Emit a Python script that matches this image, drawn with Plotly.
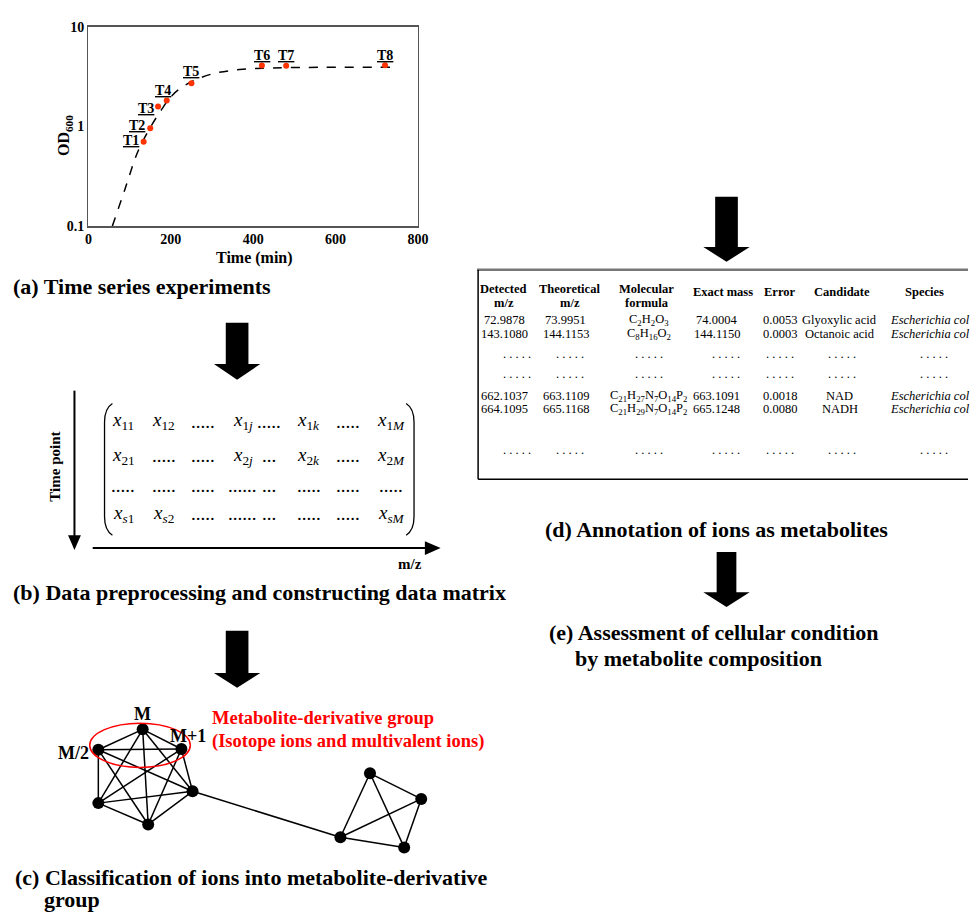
import math
import plotly.graph_objects as go

W, H = 979, 921
FONT = "Liberation Serif"

# ---------------- data: (a) growth curve ----------------
time_points = [134, 150, 169, 190, 250, 421, 480, 720]
od_points = [0.70, 0.96, 1.58, 1.82, 2.70, 4.09, 4.05, 4.10]
point_labels = ["T1", "T2", "T3", "T4", "T5", "T6", "T7", "T8"]
curve_time = [58, 88, 120, 151, 175, 199, 223, 255, 303, 367, 447, 566, 734]
curve_od = [0.10, 0.23, 0.56, 0.99, 1.42, 1.96, 2.41, 2.87, 3.38, 3.71, 3.85, 3.91, 3.91]
x_ticks = [0, 200, 400, 600, 800]
y_ticks = [0.1, 1, 10]
y_tick_labels = ["0.1", "1", "10"]

# ---------------- data: (b) matrix ----------------
matrix_rows = [
    ["<i>x</i><sub>11</sub>", "<i>x</i><sub>12</sub>", ".....", "<i>x</i><sub>1<i>j</i></sub>", ".....",
     "<i>x</i><sub>1<i>k</i></sub>", ".....", "<i>x</i><sub>1<i>M</i></sub>"],
    ["<i>x</i><sub>21</sub>", ".....", ".....", "<i>x</i><sub>2<i>j</i></sub>", "...",
     "<i>x</i><sub>2<i>k</i></sub>", ".....", "<i>x</i><sub>2<i>M</i></sub>"],
    [".....", ".....", ".....", "......", "...", ".....", ".....", "....."],
    ["<i>x</i><sub><i>s</i>1</sub>", "<i>x</i><sub><i>s</i>2</sub>", ".....", "......", "...",
     ".....", ".....", "<i>x</i><sub><i>sM</i></sub>"],
]

# ---------------- data: (c) network ----------------
node_x = [141.7, 96.7, 181.0, 192.3, 96.7, 147.3, 372.3, 424.3, 342.3, 407.0]
node_y = [734.3, 755.0, 754.3, 797.3, 809.3, 831.0, 779.0, 805.0, 844.0, 854.3]
group_a = [0, 1, 2, 3, 4, 5]
group_b = [6, 7, 8, 9]
bridge = [(3, 8)]
node_names = {0: "M", 1: "M/2", 2: "M+1"}

# ---------------- data: (d) table ----------------
detected_mz = ["72.9878", "143.1080", "662.1037", "664.1095"]
theoretical_mz = ["73.9951", "144.1153", "663.1109", "665.1168"]
formulas = ["C<sub>2</sub>H<sub>2</sub>O<sub>3</sub>", "C<sub>8</sub>H<sub>16</sub>O<sub>2</sub>",
            "C<sub>21</sub>H<sub>27</sub>N<sub>7</sub>O<sub>14</sub>P<sub>2</sub>",
            "C<sub>21</sub>H<sub>29</sub>N<sub>7</sub>O<sub>14</sub>P<sub>2</sub>"]
exact_mass = ["74.0004", "144.1150", "663.1091", "665.1248"]
errors = ["0.0053", "0.0003", "0.0018", "0.0080"]
candidates = ["Glyoxylic acid", "Octanoic acid", "NAD", "NADH"]
species = ["Escherichia col"] * 4
header_line1 = ["Detected", "Theoretical", "Molecular", "Exact mass", "Error", "Candidate", "Species"]
header_line2 = ["m/z", "m/z", "formula", "", "", "", ""]

captions = {
    "a": "(a) Time series experiments",
    "b": "(b) Data preprocessing and constructing data matrix",
    "c1": "(c) Classification of ions into metabolite-derivative",
    "c2": "group",
    "d": "(d) Annotation of ions as metabolites",
    "e1": "(e) Assessment of cellular condition",
    "e2": "by metabolite composition",
}

# ---------------- figure ----------------
fig = go.Figure()
annotations = []
shapes = []


def txt(x, y, text, size, bold=False, color="black", xanchor="center", angle=0):
    annotations.append(dict(
        x=x, y=y, xref="x2", yref="y2", text=text, showarrow=False,
        xanchor=xanchor, yanchor="middle", textangle=angle,
        font=dict(family=FONT, size=size, color=color, weight="bold" if bold else "normal")))


# (a) growth curve
fig.add_trace(go.Scatter(x=curve_time, y=curve_od, mode="lines",
                         line=dict(color="black", width=1.5, dash="dash", shape="spline"),
                         xaxis="x", yaxis="y", showlegend=False, hoverinfo="skip"))
fig.add_trace(go.Scatter(x=time_points, y=od_points, mode="markers",
                         marker=dict(color="#ff3300", size=6), xaxis="x", yaxis="y",
                         showlegend=False))
label_shift = [(-13, 1), (-13, 3), (-12, -2), (-4, 10), (0, 12), (0, 10), (0, 10), (0, 10)]
for t, v, lab, (dx, dy) in zip(time_points, od_points, point_labels, label_shift):
    annotations.append(dict(x=t, y=math.log10(v), xref="x", yref="y", yanchor="middle",
                            xanchor="center", text="<u>" + lab + "</u>", showarrow=False,
                            xshift=dx, yshift=dy,
                            font=dict(family=FONT, size=14, color="black", weight="bold")))

txt(255, 255, "Time (min)", 16, bold=True)
txt(63, 131, "OD<sub>600</sub>", 16, bold=True, angle=-90)

# network edges
edge_x, edge_y = [], []


def add_edge(i, j):
    edge_x.extend([node_x[i], node_x[j], None])
    edge_y.extend([node_y[i], node_y[j], None])


for grp in (group_a, group_b):
    for a in range(len(grp)):
        for b in range(a + 1, len(grp)):
            add_edge(grp[a], grp[b])
for i, j in bridge:
    add_edge(i, j)

fig.add_trace(go.Scatter(x=edge_x, y=edge_y, mode="lines", line=dict(color="black", width=1.5),
                         xaxis="x2", yaxis="y2", showlegend=False, hoverinfo="skip"))
fig.add_trace(go.Scatter(x=node_x, y=node_y, mode="markers", marker=dict(color="black", size=12),
                         xaxis="x2", yaxis="y2", showlegend=False))

# network labels
txt(141.7, 719, node_names[0], 18, bold=True)
txt(89, 758, node_names[1], 18, bold=True, xanchor="right")
txt(167, 741, node_names[2], 18, bold=True, xanchor="left")
txt(210, 723, "Metabolite-derivative group", 18.5, bold=True, color="#ff0000", xanchor="left")
txt(210, 747, "(Isotope ions and multivalent ions)", 18.5, bold=True, color="#ff0000", xanchor="left")
shapes.append(dict(type="circle", xref="x2", yref="y2", x0=88, x1=190, y0=728, y1=773,
                   line=dict(color="#ff0000", width=1.5)))

# captions
txt(8, 284, captions["a"], 22, bold=True, xanchor="left")
txt(8, 595, captions["b"], 22, bold=True, xanchor="left")
txt(10, 885, captions["c1"], 22, bold=True, xanchor="left")
txt(40, 907, captions["c2"], 22, bold=True, xanchor="left")
txt(724, 531, captions["d"], 22, bold=True)
txt(552, 636, captions["e1"], 22, bold=True, xanchor="left")
txt(578, 662, captions["e2"], 22, bold=True, xanchor="left")


# block arrows
def block_arrow(cx, top, base, tip, shaft_w, head_w):
    s, hw = shaft_w / 2, head_w / 2
    path = (f"M {cx - s} {top} L {cx + s} {top} L {cx + s} {base} L {cx + hw} {base} "
            f"L {cx} {tip} L {cx - hw} {base} L {cx - s} {base} Z")
    shapes.append(dict(type="path", xref="x2", yref="y2", path=path,
                       fillcolor="black", line=dict(color="black", width=0)))


block_arrow(237.5, 321, 363, 379, 23, 47)
block_arrow(237.5, 634, 677, 692, 23, 47)
block_arrow(734, 193, 244, 259, 23, 47)
block_arrow(734, 554, 595, 610, 20, 47)

# (b) matrix axes
shapes.append(dict(type="line", xref="x2", yref="y2", x0=72.5, x1=72.5, y0=390, y1=538,
                   line=dict(color="black", width=2)))
shapes.append(dict(type="path", xref="x2", yref="y2", path="M 66 537 L 79 537 L 72.5 552 Z",
                   fillcolor="black", line=dict(width=0)))
shapes.append(dict(type="line", xref="x2", yref="y2", x0=91, x1=430, y0=550, y1=550,
                   line=dict(color="black", width=2)))
shapes.append(dict(type="path", xref="x2", yref="y2", path="M 428 543 L 428 557 L 444 550 Z",
                   fillcolor="black", line=dict(width=0)))
txt(53, 467, "Time point", 15, bold=True, angle=-90)
txt(413, 566, "m/z", 15, bold=True)
# parentheses
shapes.append(dict(type="path", xref="x2", yref="y2",
                   path="M 111 403 Q 103 408 103 422 L 103 518 Q 103 532 111 537",
                   line=dict(color="black", width=1.3)))
shapes.append(dict(type="path", xref="x2", yref="y2",
                   path="M 409 403 Q 417 408 417 422 L 417 518 Q 417 532 409 537",
                   line=dict(color="black", width=1.3)))
matrix_col_x = [122, 163, 203, 243, 270, 310, 350, 394]
matrix_row_y = [421, 456, 486, 515]
for ry, row in zip(matrix_row_y, matrix_rows):
    for cx, cell in zip(matrix_col_x, row):
        txt(cx, ry, cell, 19)

# (d) table
shapes.append(dict(type="line", xref="x2", yref="y2", x0=481, x1=W, y0=267, y1=267,
                   line=dict(color="#777777", width=2.5)))
shapes.append(dict(type="line", xref="x2", yref="y2", x0=482, x1=482, y0=267, y1=480,
                   line=dict(color="black", width=1.5)))
shapes.append(dict(type="line", xref="x2", yref="y2", x0=482, x1=W, y0=480, y1=480,
                   line=dict(color="black", width=1.5)))
head_x = [508, 575, 653, 730, 788, 851, 935]
for hx, l1, l2 in zip(head_x, header_line1, header_line2):
    if l2:
        txt(hx, 286.5, l1, 12.5, bold=True)
        txt(hx, 300.5, l2, 12.5, bold=True)
    else:
        txt(hx, 290, l1, 12.5, bold=True)
row_y = [318, 332.5, 395, 409]
val_x = [509, 571, 655, 724, 788, 849]
for k, ry in enumerate(row_y):
    vals = [detected_mz[k], theoretical_mz[k], formulas[k], exact_mass[k], errors[k], candidates[k]]
    for vx, v in zip(val_x, vals):
        txt(vx, ry, v, 12.5)
    txt(898, ry, "<i>" + species[k] + "</i>", 12.5, xanchor="left")
dots_x = [521, 575, 655, 733, 788, 851, 945]
for ry in [353, 373, 450]:
    for dx in dots_x:
        txt(dx, ry, ". . . . .", 12.5)

fig.update_layout(
    width=W, height=H, margin=dict(l=0, r=0, t=0, b=0),
    paper_bgcolor="white", plot_bgcolor="rgba(0,0,0,0)", dragmode=False,
    xaxis=dict(domain=[86.7 / W, 421 / W], range=[0, 800], tickvals=x_ticks,
               showline=True, mirror=True, linecolor="#555555", linewidth=1.5,
               showgrid=False, zeroline=False, ticks="", anchor="y", fixedrange=True,
               tickfont=dict(family=FONT, size=14, color="black", weight="bold")),
    yaxis=dict(domain=[1 - 222.7 / H, 1 - 20 / H], type="log", range=[-1, 1],
               tickvals=y_ticks, ticktext=y_tick_labels,
               showline=True, mirror=True, linecolor="#555555", linewidth=1.5,
               showgrid=False, zeroline=False, ticks="", anchor="x", fixedrange=True,
               tickfont=dict(family=FONT, size=14, color="black", weight="bold")),
    xaxis2=dict(domain=[0, 1], range=[0, W], visible=False, fixedrange=True, anchor="y2"),
    yaxis2=dict(domain=[0, 1], range=[H, 0], visible=False, fixedrange=True, anchor="x2"),
    annotations=annotations, shapes=shapes, showlegend=False,
)

fig.write_html("out.html", config={"displayModeBar": False, "staticPlot": True},
               post_script="document.body.style.margin='0';document.documentElement.style.overflow='hidden';document.body.style.overflow='hidden';")
